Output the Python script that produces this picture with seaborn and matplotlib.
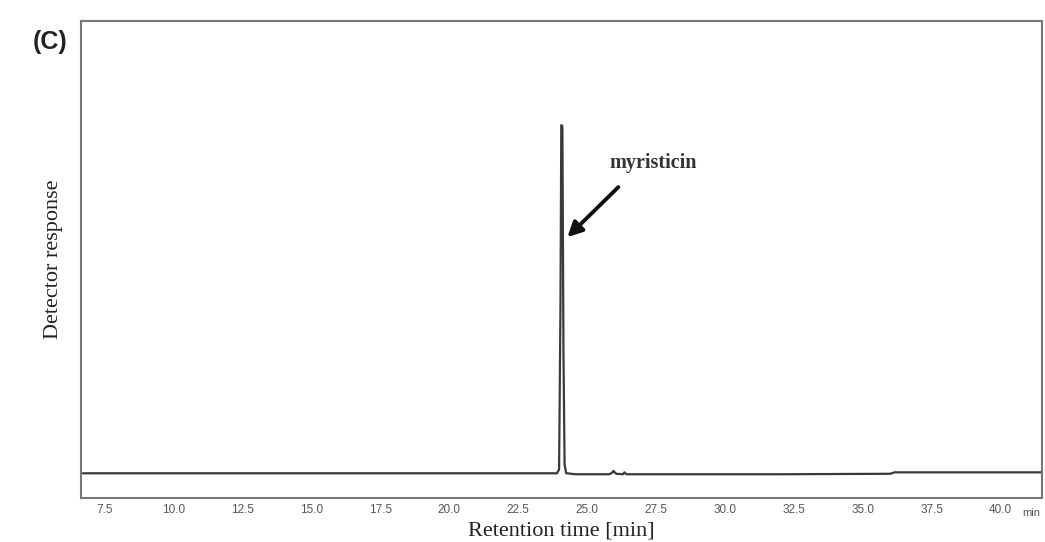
import numpy as np
import pandas as pd
import matplotlib
matplotlib.use('Agg')
import matplotlib.pyplot as plt
import seaborn as sns

# chromatogram (retention time in min, response in % of axis height)
rt = [6.7, 10.0, 15.0, 20.0, 23.9, 23.98, 24.03, 24.06, 24.1, 24.14, 24.18, 24.24, 24.3,
      24.4, 24.6, 25.0, 25.8, 25.9, 25.95, 26.05, 26.3, 26.35, 26.42, 28.0, 32.0, 36.0,
      36.15, 38.0, 41.5]
response = [5.2, 5.2, 5.2, 5.2, 5.2, 6.0, 40.0, 78.2, 78.0, 30.0, 7.0, 5.2, 5.2,
            5.1, 5.0, 5.0, 5.0, 5.3, 5.7, 5.1, 5.0, 5.4, 5.0, 5.0, 5.0, 5.1,
            5.4, 5.4, 5.4]
xticks = [7.5, 10.0, 12.5, 15.0, 17.5, 20.0, 22.5, 25.0, 27.5, 30.0, 32.5, 35.0, 37.5, 40.0]

df = pd.DataFrame({'rt': rt, 'response': response})

sns.set_style('white')
plt.rcParams['font.family'] = ['Liberation Serif', 'DejaVu Serif']

fig = plt.figure(figsize=(10.45, 5.42), dpi=100)
ax = fig.add_axes([0.0775, 0.081, 0.9195, 0.88])

sns.lineplot(data=df, x='rt', y='response', ax=ax, color='#3a3a3a', linewidth=1.6)

ax.set_xlim(6.63, 41.5)
ax.set_ylim(0, 100)
ax.set_xticks(xticks)
ax.set_xticklabels([f'{t:.1f}' for t in xticks], family='Liberation Sans',
                   fontsize=8.5, color='#555555')
ax.tick_params(axis='x', length=0, pad=4)
ax.set_yticks([])
for s in ax.spines.values():
    s.set_color('#777777')
    s.set_linewidth(1.5)

ax.set_xlabel('Retention time [min]', fontsize=16, color='#222222', labelpad=4)
ax.set_ylabel('Detector response', fontsize=16, color='#222222', labelpad=13)

ax.text(1.0 - 0.011, -0.02, 'min', transform=ax.transAxes, ha='center', va='top',
        family='Liberation Sans', fontsize=8, color='#555555')

# arrow pointing at the peak, label placed separately
ax.annotate('', xy=(24.28, 54.7), xytext=(26.13, 65.2),
            arrowprops=dict(arrowstyle='-|>', color='#111111', lw=2.8,
                            mutation_scale=22, shrinkA=0, shrinkB=0))
ax.text(27.4, 70.2, 'myristicin', fontsize=14.5, fontweight='bold', color='#333333',
        ha='center', va='center')

fig.text(0.048, 0.922, '(C)', family='Liberation Sans', fontweight='bold',
         fontsize=18, ha='center', va='center', color='#222222')

fig.savefig('out.png', dpi=100)
